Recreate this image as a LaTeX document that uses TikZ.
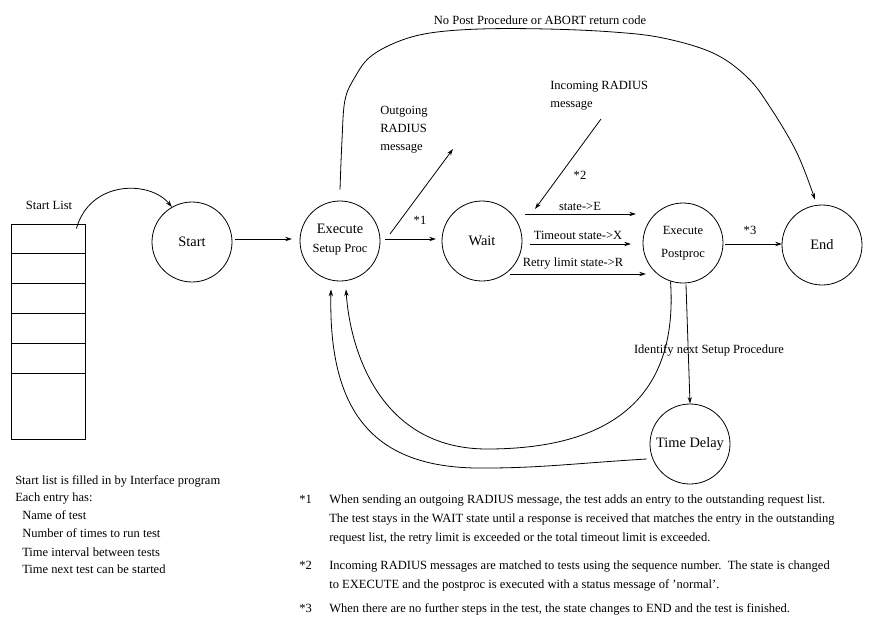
\documentclass[tikz,border=0pt]{standalone}
\usepackage{fontspec}
\setmainfont{Liberation Serif}
\usetikzlibrary{arrows.meta,calc}
\begin{document}
\begin{tikzpicture}[x=0.75pt,y=-0.75pt,
  st/.style={circle, draw, line width=0.6pt, minimum size=60pt, inner sep=0pt, font=\fontsize{10.8}{12}\selectfont},
  listbox/.style={rectangle, draw, line width=0.6pt, minimum width=55.5pt, minimum height=161.25pt, inner sep=0pt},
  arr/.style={-{Stealth[length=5pt,width=3.2pt]}, line width=0.6pt},
  ln/.style={line width=0.6pt},
  txt/.style={font=\fontsize{9.4}{11}\selectfont, inner sep=0pt},
  big/.style={font=\fontsize{10.8}{12}\selectfont, inner sep=0pt}]
\useasboundingbox (0,0) rectangle (876,625);

% start list
\node[listbox] (list) at (48,331.5) {};
\foreach \k in {1,...,5} \draw[ln] (list.north west) ++(0,30*\k) -- ++(74,0);
\node[txt] (listlbl) at (49,205) {Start List};

% states
\node[st] (start) at (192,242) {Start};
\node[st] (exec) at (340,241) {};
\node[big] (execA) at ($(exec.center)+(0,-12)$) {Execute};
\node[txt] (execB) at ($(exec.center)+(0,9)$) {Setup Proc};
\node[st] (wait) at (482,241) {Wait};
\node[st] (post) at (683,243) {};
\node[txt] (postA) at ($(post.center)+(0,-13)$) {Execute};
\node[txt] (postB) at ($(post.center)+(0,12)$) {Postproc};
\node[st] (end) at (822,245) {End};
\node[st] (delay) at (690,444) {Time Delay};

% start list to start
\draw[arr] ($(list.north east)+(-9,5)$) .. controls (90,180) and (150,180) .. (start.120);

% main chain
\draw[arr] ($(start.center)+(43,-3)$) -- ($(exec.center)+(-48,-2)$);
\draw[arr] ($(exec.center)+(45,-2)$) -- ($(wait.center)+(-46,-2)$);
\draw[arr] ($(post.center)+(42,1)$) -- ($(end.center)+(-40,-1)$);

% outgoing / incoming
\coordinate (outA) at ($(exec.center)+(50,-7)$);
\coordinate (outB) at (453,149);
\draw[arr] (outA) -- (outB);
\coordinate (inA) at (601,119);
\coordinate (inB) at (535,209);
\draw[arr] (inA) -- (inB);

% wait -> postproc
\draw[arr] ($(wait.center)+(43,-27)$) -- ($(post.center)+(-47,-29)$);
\draw[arr] ($(wait.center)+(48,3)$) -- ($(post.center)+(-52,1)$);
\draw[arr] ($(wait.center)+(28,33)$) -- ($(post.center)+(-37,31)$);

% postproc -> time delay
\draw[arr] ($(post.south)+(3,1)$) -- (delay.north);

% postproc -> execute (inner curve)
\coordinate (inLow) at (487,449);
\draw[arr] (post.252) .. controls (678,390) and (620,449) .. (inLow)
  .. controls (380,449) and (350,350) .. ($(exec.south)+(6,8)$);

% time delay -> execute (outer curve)
\coordinate (outLow) at (487,468);
\draw[arr] ($(delay.west)+(-3,15)$) .. controls (580,463) and (540,468) .. (outLow)
  .. controls (380,470) and (328,420) .. ($(exec.south)+(-9,8)$);

% execute -> end (top arc)
\draw[arr] plot[smooth, tension=0.6] coordinates {($(exec.north)+(0,-11)$) (342,140) (345,100) (355,77) (370,57) (397,42) (430,33) (480,29) (547,29) (613,32) (663,38) (713,53) (747,77) (770,107) (797,153) ($(end.north)+(-7,-5)$)};

% labels
\node[txt] (topl) at (540,20) {No Post Procedure or ABORT return code};
\node[txt, anchor=base west] (og1) at (380,114) {Outgoing};
\node[txt, anchor=base west] (og2) at (380,132) {RADIUS};
\node[txt, anchor=base west] (og3) at (380,150) {message};
\node[txt, anchor=base west] (ic1) at (550,89) {Incoming RADIUS};
\node[txt, anchor=base west] (ic2) at (550,107) {message};
\node[txt] (s1) at (420,220) {*1};
\node[txt] (s2) at (580,175) {*2};
\node[txt] (s3) at (750,230) {*3};
\node[txt] (le) at (580,206) {state->E};
\node[txt] (lx) at (578,235) {Timeout state->X};
\node[txt] (lr) at (573,264) {Retry limit state->R};
\node[txt] (lid) at (709,350) {Identify next Setup Procedure};

% bottom-left notes
\node[txt, anchor=base west] (bl1) at (15,484) {Start list is filled in by Interface program};
\node[txt, anchor=base west] (bl2) at (15,501) {Each entry has:};
\node[txt, anchor=base west] (bl3) at (22,519) {Name of test};
\node[txt, anchor=base west] (bl4) at (22,537) {Number of times to run test};
\node[txt, anchor=base west] (bl5) at (22,556) {Time interval between tests};
\node[txt, anchor=base west] (bl6) at (22,573) {Time next test can be started};

% bottom-right notes
\node[txt, anchor=base west] (n1) at (299,503) {*1};
\node[txt, anchor=base west] (n1a) at (329,503) {When sending an outgoing RADIUS message, the test adds an entry to the outstanding request list.};
\node[txt, anchor=base west] (n1b) at (329,522) {The test stays in the WAIT state until a response is received that matches the entry in the outstanding};
\node[txt, anchor=base west] (n1c) at (329,541) {request list, the retry limit is exceeded or the total timeout limit is exceeded.};
\node[txt, anchor=base west] (n2) at (299,569) {*2};
\node[txt, anchor=base west] (n2a) at (329,569) {Incoming RADIUS messages are matched to tests using the sequence number.\ \ The state is changed};
\node[txt, anchor=base west] (n2b) at (329,588) {to EXECUTE and the postproc is executed with a status message of 'normal'.};
\node[txt, anchor=base west] (n3) at (299,612) {*3};
\node[txt, anchor=base west] (n3a) at (329,612) {When there are no further steps in the test, the state changes to END and the test is finished.};
\end{tikzpicture}
\end{document}
